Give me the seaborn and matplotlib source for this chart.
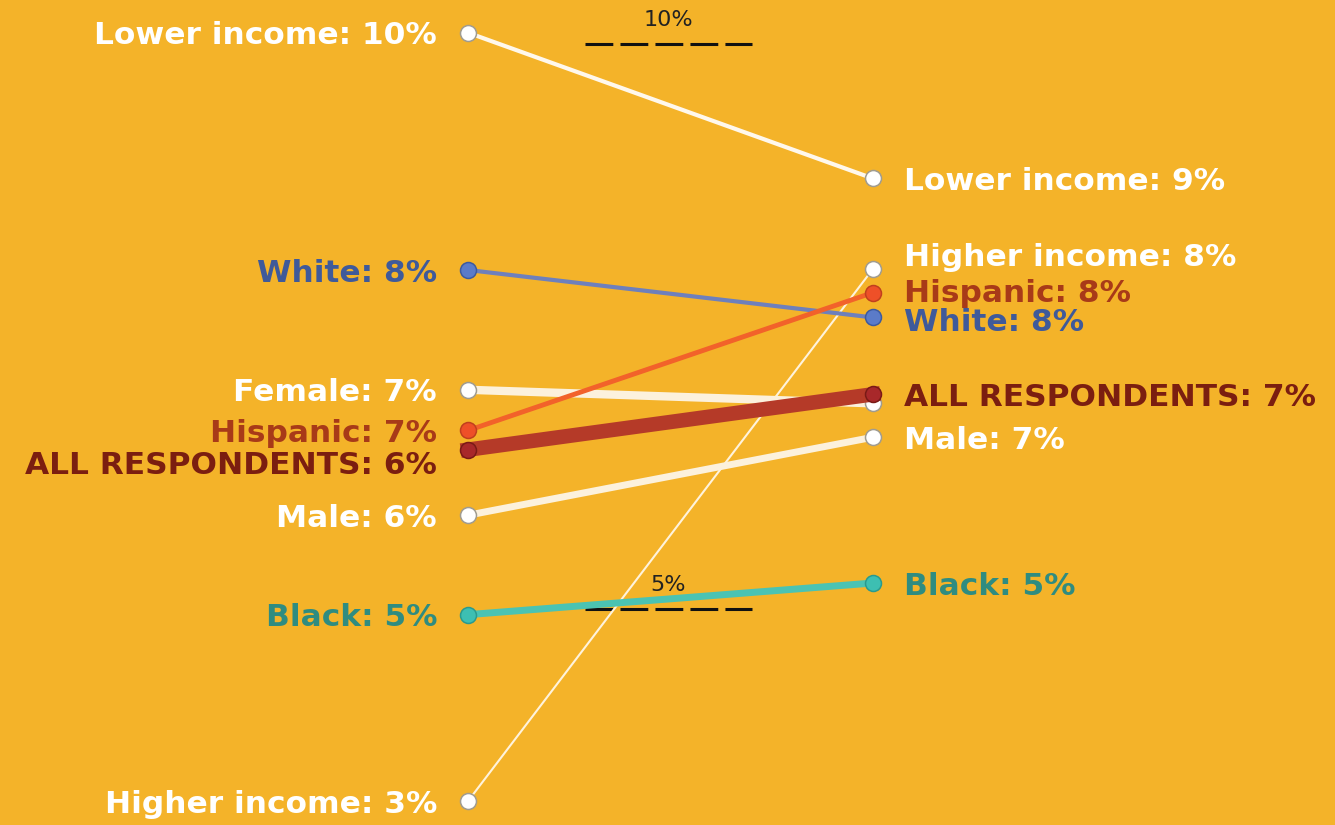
import matplotlib
matplotlib.use("Agg")
import matplotlib.pyplot as plt
import seaborn as sns
import pandas as pd

# Share of respondents, first and second survey wave
groups = ["Higher income", "Lower income", "Black", "Male", "Female",
          "White", "Hispanic", "ALL RESPONDENTS"]
first_wave = [3.3, 10.1, 4.95, 5.83, 6.94, 8.0, 6.58, 6.41]
second_wave = [8.01, 8.81, 5.23, 6.52, 6.82, 7.58, 7.80, 6.90]
reference_levels = [10, 5]

df = pd.DataFrame({
    "group": groups * 2,
    "wave": [0] * len(groups) + [1] * len(groups),
    "value": first_wave + second_wave,
})

BG = "#F4B329"
styles = {
    # line colour, line width, marker face, marker edge, label colour
    "Higher income":   ("#FFF3DC", 1.5, "#FFFFFF", "#A09C90", "#FFFFFF"),
    "Lower income":    ("#FFF8EC", 3.0, "#FFFFFF", "#A09C90", "#FFFFFF"),
    "Black":           ("#4BC3B2", 5.0, "#3DBFB2", "#2A9A8E", "#2F8C80"),
    "Male":            ("#FCF1DC", 5.0, "#FFFFFF", "#A09C90", "#FFFFFF"),
    "Female":          ("#FCF1DC", 6.0, "#FFFFFF", "#A09C90", "#FFFFFF"),
    "White":           ("#6E80BB", 3.0, "#5B7BC8", "#3D5A9E", "#3F5A9A"),
    "Hispanic":        ("#F2622A", 3.5, "#EE5028", "#C0401E", "#A83A18"),
    "ALL RESPONDENTS": ("#B53A28", 10.5, "#A8282A", "#7A1A16", "#7B1E10"),
}
# vertical nudges for labels (pixels, positive = up); None hides a label
left_nudge = {"ALL RESPONDENTS": -16}
right_nudge = {"Higher income": 11, "Hispanic": -1, "White": -5, "Female": None}

fig = plt.figure(figsize=(13.35, 8.25), dpi=100)
fig.patch.set_facecolor(BG)
ax = fig.add_axes([0, 0, 1, 1])
ax.set_facecolor(BG)

for z, g in enumerate(groups):
    lc, lw, mf, me, tc = styles[g]
    sub = df[df["group"] == g]
    sns.lineplot(data=sub, x="wave", y="value", ax=ax, color=lc, linewidth=lw,
                 marker="o", markersize=11.5, markerfacecolor=mf,
                 markeredgecolor=me, markeredgewidth=1.1, zorder=3 + z,
                 legend=False)

    v0 = sub[sub["wave"] == 0]["value"].iloc[0]
    v1 = sub[sub["wave"] == 1]["value"].iloc[0]
    dy0 = left_nudge.get(g, -3)
    ax.annotate(f"{g}: {round(v0)}%", xy=(0, v0), xytext=(-31, dy0),
                textcoords="offset pixels", ha="right", va="center",
                fontsize=22.5, fontweight="bold", color=tc, zorder=20)
    dy1 = right_nudge.get(g, -3)
    if dy1 is not None:
        ax.annotate(f"{g}: {round(v1)}%", xy=(1, v1), xytext=(31, dy1),
                    textcoords="offset pixels", ha="left", va="center",
                    fontsize=22.5, fontweight="bold", color=tc, zorder=20)

# dashed reference levels between the two columns
for lvl in reference_levels:
    ax.plot([0.289, 0.701], [lvl, lvl], color="#111111", lw=2.2,
            dashes=(9.1, 2.35), zorder=2)
    ax.annotate(f"{lvl}%", xy=(0.495, lvl), xytext=(0, 24),
                textcoords="offset pixels", ha="center", va="center",
                fontsize=16, color="#222222", zorder=2)

ax.set_xlim(-468 / 405, (1335 - 468) / 405)
ax.set_ylim(10 - (825 - 44) / 113, 10 + 44 / 113)
ax.axis("off")

fig.savefig("out.png", dpi=100, facecolor=BG)
